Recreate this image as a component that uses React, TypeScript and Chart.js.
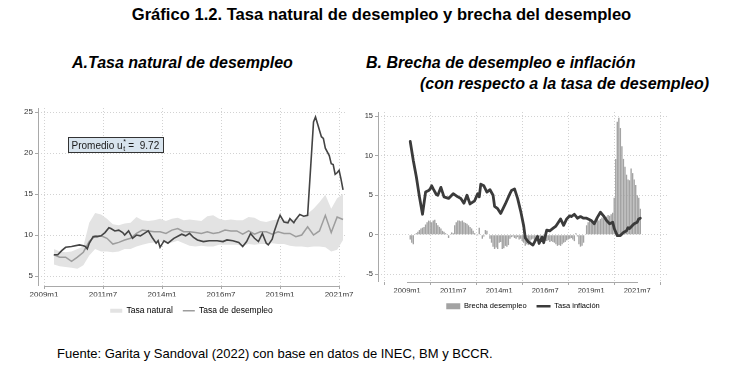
import React, { useEffect, useRef } from "react";
import { Chart, registerables } from "chart.js";

Chart.register(...registerables);

// ---------------- Data ----------------
const xTickLabels = ["2009m1", "2011m7", "2014m1", "2016m7", "2019m1", "2021m7"];
const yTicksA = [5, 10, 15, 20, 25];
const yTicksB = [-5, 0, 5, 10, 15];

// Panel A: natural rate (quarterly readings from 2009m6) and its band
const naturalInicio = "2009m6";
const naturalPaso = 3;
const tasaNatural = [
  7.6, 7.3, 7.3, 6.8, 7.3, 7.9, 9.2, 9.9, 9.9, 9.6,
  8.9, 9.1, 9.4, 9.6, 10.2, 10.6, 10.5, 10.4, 10.4, 10.2,
  10.6, 10.8, 10.4, 10.4, 10.3, 10.2, 10.4, 10.2, 10.3, 10.6,
  10.5, 10.5, 10.1, 10.5, 10.1, 10.4, 10.4, 10.1, 10.4, 10.2,
  10.2, 9.8, 10.0, 11.0, 10.0, 10.5, 12.4, 10.3, 12.2, 11.9,
];
const bandaInferior = [
  6.4, 6.2, 6.1, 6.0, 5.9, 6.3, 7.5, 8.3, 8.0, 8.0,
  7.9, 8.0, 8.3, 8.3, 8.6, 8.8, 9.0, 9.1, 9.2, 9.0,
  9.1, 9.3, 9.0, 8.7, 8.6, 8.7, 8.6, 8.6, 8.8, 8.8,
  8.8, 8.8, 8.7, 8.9, 8.8, 8.9, 8.9, 9.0, 8.9, 8.9,
  8.7, 8.6, 8.6, 8.5, 8.6, 8.6, 8.5, 8.0, 8.2, 9.4,
];
const bandaSuperior = [
  8.3, 8.0, 7.9, 8.0, 8.3, 8.6, 11.5, 12.7, 12.5, 12.0,
  11.3, 11.2, 11.4, 11.5, 12.2, 11.8, 11.7, 11.8, 12.0, 11.7,
  12.0, 12.1, 11.8, 11.9, 11.8, 11.7, 12.3, 12.4, 12.0, 11.8,
  11.9, 11.8, 11.8, 12.2, 12.1, 11.7, 11.6, 11.8, 11.9, 11.8,
  11.8, 12.0, 12.1, 12.6, 13.2, 14.0, 14.9, 13.2, 14.5, 15.0,
];

// Panel A: unemployment rate
const desempleoPeriodos = [
  "2009m6", "2009m8", "2009m10", "2009m12",
  "2010m3", "2010m7", "2010m9", "2010m10", "2010m11", "2010m12",
  "2011m2", "2011m4", "2011m6", "2011m8", "2011m10", "2011m11",
  "2012m1", "2012m3", "2012m5", "2012m6", "2012m8", "2012m10", "2012m12",
  "2013m2", "2013m4", "2013m6", "2013m8", "2013m10", "2013m11", "2013m12",
  "2014m2", "2014m4", "2014m7", "2014m11",
  "2015m1", "2015m3", "2015m5", "2015m7", "2015m10",
  "2016m1", "2016m5", "2016m8", "2016m10",
  "2017m1", "2017m4", "2017m6", "2017m8", "2017m10", "2017m12",
  "2018m2", "2018m4", "2018m6", "2018m7", "2018m9", "2018m10", "2018m12",
  "2019m1", "2019m3", "2019m5", "2019m6", "2019m8", "2019m9", "2019m11",
  "2020m1", "2020m3", "2020m6", "2020m7", "2020m8", "2020m10", "2020m11", "2020m12",
  "2021m2", "2021m3", "2021m4", "2021m5", "2021m6", "2021m7", "2021m8", "2021m9",
];
const desempleoValores = [
  7.6, 7.6, 8.1, 8.5,
  8.6, 8.8, 8.7, 8.6, 8.3, 9.0,
  9.8, 9.8, 9.9, 10.3, 10.9, 10.8,
  10.5, 10.6, 10.3, 10.0, 10.5, 9.6, 10.0,
  9.9, 10.2, 10.5, 9.7, 9.0, 9.3, 8.5,
  9.3, 9.0, 9.6, 10.1,
  9.9, 10.2, 9.7, 9.4, 9.2,
  9.3, 9.3, 9.2, 9.4,
  9.3, 9.1, 8.6, 9.2, 10.2, 9.6,
  9.2, 10.2, 9.0, 8.8, 9.5, 10.4, 11.8,
  12.4, 11.6, 11.5, 12.0, 11.5, 11.9, 12.5,
  12.3, 12.4, 23.8, 24.4, 23.6, 22.0, 21.8, 20.6,
  19.7, 18.7, 18.6, 17.4, 17.6, 17.9, 16.8, 15.5,
];
const promedioNatural = 9.72;
const promedioAncla = { periodo: "2010m1", valor: 22 };

// Panel B: unemployment gap (monthly from 2009m3)
const brechaInicio = "2009m3";
const brechaValores = [
  -0.6, -1.0, -1.2, 0.1, 0.2, 0.4, 0.6, 0.8, 0.9, 1.0,
  1.3, 1.6, 1.8, 1.7, 1.6, 1.8, 1.9, 1.5, 1.2, 1.0,
  0.8, 0.5, 0.4, 0.2, 0.1, -0.4, 0.0, 0.3, 0.2, 1.2,
  1.6, 1.8, 1.8, 1.7, 1.8, 1.6, 1.5, 1.4, 1.2, 1.0,
  0.8, 0.5, 0.2, 0.1, -0.1, 0.9, 0.0, -0.5, -0.2, 0.6,
  0.5, 0.0, -0.5, -1.0, -1.5, -1.8, -1.6, -1.8, -1.0, -0.9,
  -1.8, -1.7, -1.4, -1.5, -1.3, -0.5, -0.3, -0.2, -0.4, -0.5,
  -0.3, -0.6, -0.5, -0.8, -1.0, -1.4, -1.2, -1.3, -0.9, -0.6,
  -0.5, -0.7, -0.6, -0.4, -0.3, -0.5, -0.4, -0.6, -0.8, -0.8,
  -0.7, -0.9, -0.8, -0.9, -1.0, -1.2, -1.4, -1.3, -1.4, -1.2,
  -1.0, -0.9, -0.7, -0.6, -0.5, -0.4, -0.6, -0.8, 0.2, -0.2,
  -1.2, -1.5, -1.4, -1.0, 0.0, 1.2, 1.6, 1.8, 1.6, 1.5,
  1.7, 1.9, 2.0, 1.8, 2.0, 2.2, 2.1, 2.2, 2.3, 2.5,
  2.4, 2.6, 2.8, 4.7, 9.6, 14.3, 14.8, 13.5, 11.2, 9.6,
  8.6, 7.6, 7.0, 6.9, 8.4, 7.8, 7.0, 6.3, 5.0, 4.7, 3.3,
];

// Panel B: inflation
const inflacionPeriodos = [
  "2009m3", "2009m5", "2009m7", "2009m9", "2009m11",
  "2010m1", "2010m3", "2010m4", "2010m5", "2010m6", "2010m8", "2010m9", "2010m11",
  "2011m1", "2011m4", "2011m7", "2011m10", "2011m12",
  "2012m2", "2012m4", "2012m6", "2012m9", "2012m11", "2012m12",
  "2013m1", "2013m3", "2013m5", "2013m7", "2013m9", "2013m10", "2013m12",
  "2014m2", "2014m5", "2014m8", "2014m9", "2014m11",
  "2015m1", "2015m3", "2015m5", "2015m6", "2015m8", "2015m11",
  "2016m2", "2016m3", "2016m5", "2016m6", "2016m8", "2016m10", "2016m12",
  "2017m2", "2017m3", "2017m5", "2017m7", "2017m9", "2017m11", "2017m12",
  "2018m2", "2018m4", "2018m6", "2018m8", "2018m10",
  "2019m1", "2019m3", "2019m5", "2019m7", "2019m9", "2019m11",
  "2020m1", "2020m3", "2020m4", "2020m6", "2020m8", "2020m10", "2020m12",
  "2021m1", "2021m2", "2021m4", "2021m5", "2021m7", "2021m8", "2021m9",
];
const inflacionValores = [
  11.8, 9.4, 7.3, 4.8, 2.6,
  5.4, 5.6, 5.8, 6.2, 5.8, 5.1, 5.0, 6.0,
  4.8, 4.6, 5.2, 4.8, 4.6,
  4.0, 5.0, 3.9, 4.3, 5.2, 4.8,
  6.4, 6.2, 5.4, 5.7, 5.0, 3.6, 3.3,
  2.7, 3.9, 5.2, 5.6, 5.8,
  4.6, 3.0, 1.1, -0.4, -0.9, -1.3,
  -0.2, -1.1, -0.3, -1.0, 0.6, 0.5, 0.8,
  1.1, 1.4, 2.0, 1.2, 2.0, 2.4, 2.3,
  2.6, 2.1, 2.3, 2.1, 2.1,
  1.8, 1.4, 2.2, 2.85, 2.4, 1.8,
  1.4, 1.6, 0.8, -0.1, -0.1, 0.3, 0.5,
  0.9, 0.8, 1.2, 1.4, 1.6, 2.0, 2.1,
];

// ---------------- Helpers ----------------
const FONT = '"Liberation Sans", Arial, Helvetica, sans-serif';
Chart.defaults.font.family = FONT;

const monthIndex = (p: string) => {
  const [y, m] = p.split("m").map(Number);
  return (y - 2009) * 12 + (m - 1);
};
const labelForMonth = (v: number) => {
  const found = xTickLabels.find((l) => monthIndex(l) === v);
  return found ?? "";
};
const regular = (start: string, n: number, step: number) =>
  Array.from({ length: n }, (_, i) => monthIndex(start) + i * step);
const pairs = (xs: number[], ys: number[]) => xs.map((x, i) => ({ x, y: ys[i] }));

const GRID = "#d2d2d2";
const AXIS = "#a9a9a9";

const stataAxes = {
  id: "stataAxes",
  afterDraw(chart: any) {
    const { ctx, chartArea: a, scales } = chart;
    const x = scales.x;
    const first = x.getPixelForValue(monthIndex(xTickLabels[0]));
    const last = x.getPixelForValue(monthIndex(xTickLabels[xTickLabels.length - 1]));
    ctx.save();
    ctx.strokeStyle = AXIS;
    ctx.lineWidth = 1;
    ctx.beginPath();
    const lx = Math.round(a.left) + 0.5;
    ctx.moveTo(lx, a.top);
    ctx.lineTo(lx, a.bottom);
    const by = Math.round(a.bottom) + 0.5;
    ctx.moveTo(Math.round(first), by);
    ctx.lineTo(Math.round(last) + 1, by);
    ctx.stroke();
    ctx.restore();
  },
};

const promedioBox = {
  id: "promedioBox",
  afterDatasetsDraw(chart: any) {
    const { ctx, scales } = chart;
    const left = Math.round(scales.x.getPixelForValue(monthIndex(promedioAncla.periodo)));
    const top = Math.round(scales.y.getPixelForValue(promedioAncla.valor));
    ctx.save();
    const t1 = "Promedio u";
    const t3 = " =  " + promedioNatural.toFixed(2);
    ctx.font = `10px ${FONT}`;
    const w1 = ctx.measureText(t1).width;
    const w3 = ctx.measureText(t3).width;
    ctx.font = `7px ${FONT}`;
    const w2 = ctx.measureText("t").width + 1;
    const padX = 3.5;
    const h = 15;
    const w = Math.round(padX * 2 + w1 + w2 + w3);
    ctx.fillStyle = "#d8e4ee";
    ctx.fillRect(left, top, w, h);
    ctx.strokeStyle = "#333333";
    ctx.lineWidth = 1;
    ctx.strokeRect(left + 0.5, top + 0.5, w, h);
    ctx.fillStyle = "#1a1a1a";
    ctx.textBaseline = "alphabetic";
    ctx.textAlign = "left";
    const base = top + 11.5;
    ctx.font = `10px ${FONT}`;
    ctx.fillText(t1, left + padX, base);
    ctx.font = `7px ${FONT}`;
    ctx.fillText("t", left + padX + w1 + 0.5, base + 2.5);
    ctx.fillText("*", left + padX + w1 + 0.5, base - 5);
    ctx.font = `10px ${FONT}`;
    ctx.fillText(t3, left + padX + w1 + w2, base);
    ctx.restore();
  },
};

const axisCommon = (size: number) => ({
  grid: {
    color: GRID,
    lineWidth: 1,
    drawTicks: true,
    tickLength: 3,
    tickColor: AXIS,
    tickBorderDash: [],
  },
  border: { display: false, dash: [1, 2] },
  ticks: { font: { size }, color: "#333333" },
});

function xScale(min: number, max: number, size: number) {
  const c = axisCommon(size);
  return {
    type: "linear",
    min,
    max,
    afterBuildTicks: (s: any) => {
      s.ticks = xTickLabels.map((l) => ({ value: monthIndex(l) }));
    },
    afterFit: (s: any) => {
      s.height = 10.5;
    },
    grid: c.grid,
    border: c.border,
    ticks: {
      ...c.ticks,
      padding: 1,
      maxRotation: 0,
      autoSkip: false,
      callback: (v: any) => labelForMonth(Number(v)),
    },
  };
}

function yScale(min: number, max: number, ticks: number[], size: number, width: number) {
  const c = axisCommon(size);
  return {
    type: "linear",
    min,
    max,
    afterBuildTicks: (s: any) => {
      s.ticks = ticks.map((v) => ({ value: v }));
    },
    afterFit: (s: any) => {
      s.width = width;
    },
    grid: c.grid,
    border: c.border,
    ticks: { ...c.ticks, padding: 2, callback: (v: any) => String(v) },
  };
}

export default function App() {
  const refA = useRef<HTMLCanvasElement>(null);
  const refB = useRef<HTMLCanvasElement>(null);

  useEffect(() => {
    const natX = regular(naturalInicio, tasaNatural.length, naturalPaso);
    const chartA = new Chart(refA.current as HTMLCanvasElement, {
      type: "line",
      data: {
        datasets: [
          {
            label: "Banda inferior",
            data: pairs(natX, bandaInferior),
            borderWidth: 0,
            pointRadius: 0,
            fill: false,
            borderColor: "rgba(0,0,0,0)",
            order: 4,
          },
          {
            label: "Banda superior",
            data: pairs(natX, bandaSuperior),
            borderWidth: 0,
            pointRadius: 0,
            fill: "-1",
            backgroundColor: "#e3e3e3",
            borderColor: "rgba(0,0,0,0)",
            order: 3,
          },
          {
            label: "Tasa natural",
            data: pairs(natX, tasaNatural),
            borderColor: "#9d9d9d",
            borderWidth: 1.5,
            pointRadius: 0,
            tension: 0,
            order: 2,
          },
          {
            label: "Tasa de desempleo",
            data: pairs(desempleoPeriodos.map(monthIndex), desempleoValores),
            borderColor: "#444444",
            borderWidth: 1.6,
            pointRadius: 0,
            tension: 0,
            order: 1,
          },
        ],
      },
      options: {
        animation: false,
        responsive: false,
        devicePixelRatio: 1,
        events: [],
        layout: { padding: { left: 8, right: 15, top: 8, bottom: 0 } },
        scales: {
          x: xScale(-3.05, 153, 8),
          y: yScale(3.78, 25.5, yTicksA, 8, 30),
        } as any,
        plugins: {
          tooltip: { enabled: false },
          legend: {
            position: "bottom",
            fullSize: false,
            labels: {
              usePointStyle: true,
              pointStyleWidth: 12,
              boxHeight: 4,
              padding: 10,
              color: "#333333",
              font: { size: 8.5 },
              generateLabels: () => [
                {
                  text: "Tasa natural",
                  fillStyle: "#e3e3e3",
                  strokeStyle: "#e3e3e3",
                  lineWidth: 0,
                  pointStyle: "rect",
                  hidden: false,
                  datasetIndex: 1,
                },
                {
                  text: "Tasa de desempleo",
                  fillStyle: "#9d9d9d",
                  strokeStyle: "#9d9d9d",
                  lineWidth: 1.5,
                  pointStyle: "line",
                  hidden: false,
                  datasetIndex: 2,
                },
              ],
            },
          },
        },
      } as any,
      plugins: [stataAxes, promedioBox],
    });

    const brechaX = regular(brechaInicio, brechaValores.length, 1);
    const chartB = new Chart(refB.current as HTMLCanvasElement, {
      type: "bar",
      data: {
        datasets: [
          {
            type: "bar",
            label: "Brecha desempleo",
            data: pairs(brechaX, brechaValores),
            backgroundColor: "#a3a3a3",
            borderWidth: 0,
            barPercentage: 0.9,
            categoryPercentage: 1,
            order: 2,
          },
          {
            type: "line",
            label: "Tasa inflación",
            data: pairs(inflacionPeriodos.map(monthIndex), inflacionValores),
            borderColor: "#3b3b3b",
            borderWidth: 2.8,
            pointRadius: 0,
            tension: 0,
            borderJoinStyle: "round",
            borderCapStyle: "round",
            order: 1,
          },
        ],
      } as any,
      options: {
        animation: false,
        responsive: false,
        devicePixelRatio: 1,
        events: [],
        layout: { padding: { left: 0, right: 86, top: 12, bottom: 0 } },
        scales: {
          x: xScale(-3.26, 154.3, 7.5),
          y: yScale(-5.97, 15.53, yTicksB, 7.5, 18),
        } as any,
        plugins: {
          tooltip: { enabled: false },
          legend: {
            position: "bottom",
            fullSize: false,
            labels: {
              usePointStyle: true,
              pointStyleWidth: 14,
              boxHeight: 6,
              padding: 10,
              color: "#333333",
              font: { size: 7.5 },
              generateLabels: () => [
                {
                  text: "Brecha desempleo",
                  fillStyle: "#a3a3a3",
                  strokeStyle: "#a3a3a3",
                  lineWidth: 0,
                  pointStyle: "rect",
                  hidden: false,
                  datasetIndex: 0,
                },
                {
                  text: "Tasa inflación",
                  fillStyle: "#3b3b3b",
                  strokeStyle: "#3b3b3b",
                  lineWidth: 2.5,
                  pointStyle: "line",
                  hidden: false,
                  datasetIndex: 1,
                },
              ],
            },
          },
        },
      } as any,
      plugins: [stataAxes],
    });

    return () => {
      chartA.destroy();
      chartB.destroy();
    };
  }, []);

  const text = (fs: number, baseline: number) => ({
    position: "absolute" as const,
    top: baseline - 0.8465 * fs,
    fontSize: fs,
    lineHeight: `${fs}px`,
    whiteSpace: "nowrap" as const,
  });

  return (
    <div
      style={{
        position: "absolute",
        left: 0,
        top: 0,
        width: 754,
        height: 368,
        background: "#ffffff",
        fontFamily: FONT,
        color: "#000000",
        overflow: "hidden",
      }}
    >
      <div style={{ ...text(16.6, 20.7), left: 4.5, width: 754, textAlign: "center", fontWeight: "bold" }}>
        Gráfico 1.2. Tasa natural de desempleo y brecha del desempleo
      </div>
      <div style={{ ...text(16, 68.5), left: 72, fontWeight: "bold", fontStyle: "italic" }}>
        A.Tasa natural de desempleo
      </div>
      <div style={{ ...text(16, 68.5), left: 366, fontWeight: "bold", fontStyle: "italic" }}>
        B. Brecha de desempleo e inflación
      </div>
      <div style={{ ...text(16, 89.5), left: 420, fontWeight: "bold", fontStyle: "italic" }}>
        (con respecto a la tasa de desempleo)
      </div>
      <canvas
        ref={refA}
        width={360}
        height={225}
        style={{ position: "absolute", left: 0, top: 100, width: 360, height: 225 }}
      />
      <canvas
        ref={refB}
        width={394}
        height={220}
        style={{ position: "absolute", left: 360, top: 100, width: 394, height: 220 }}
      />
      <div style={{ ...text(13, 358), left: 57 }}>
        Fuente: Garita y Sandoval (2022) con base en datos de INEC, BM y BCCR.
      </div>
    </div>
  );
}
